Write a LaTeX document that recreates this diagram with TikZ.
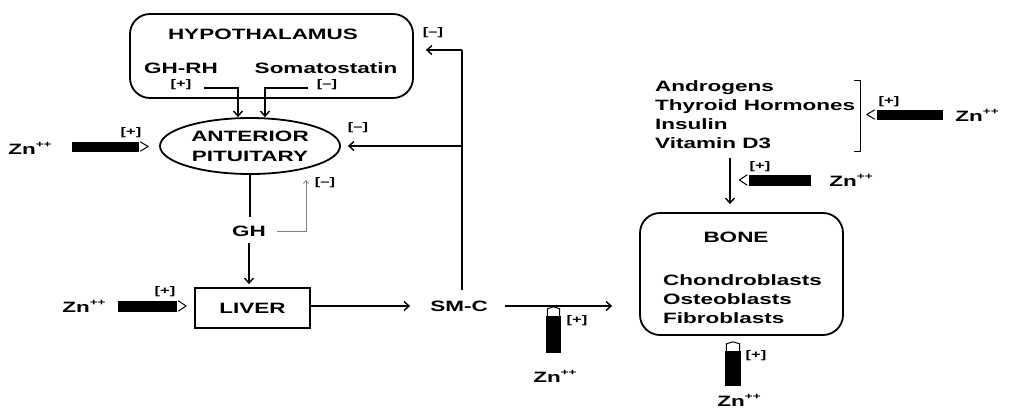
\documentclass[tikz,border=0pt]{standalone}
\usepackage{fontspec}
\setmainfont{Liberation Sans}[FakeStretch=1.5]
\usetikzlibrary{shapes.geometric,arrows.meta,calc}
\newcommand{\Zn}{Zn\raisebox{7pt}{\fontsize{9}{9}\selectfont++}}
\begin{document}
\begin{tikzpicture}[x=1pt,y=-1pt,
 lbl/.style={font=\fontsize{15}{19}\selectfont\bfseries, inner sep=0pt},
 sgn/.style={font=\fontsize{11}{12}\selectfont\bfseries, inner sep=0pt},
 zn/.style={font=\fontsize{15}{19}\selectfont\bfseries, inner sep=0pt},
 box/.style={draw, line width=1.8pt},
 arr/.style={line width=1.4pt, -{Straight Barb[length=5pt,width=9pt]}},
 ln/.style={line width=1.4pt},
 zbar/.style={fill=black, draw=black, inner sep=0pt},
 tip/.style={line width=1pt, line join=round},
 ]
\useasboundingbox (0,0) rectangle (1018,408);

% Hypothalamus
\node[box, rounded corners=20pt, minimum width=283pt, minimum height=84pt] (hyp) at (271.5,56) {};
\node[lbl] (hyptxt) at (263,34) {HYPOTHALAMUS};
\node[lbl] (ghrh) at (181,68) {GH-RH};
\node[lbl] (soma) at (326,68) {Somatostatin};
\node[sgn] (s1) at (181,85) {[+]};
\node[sgn] (s2) at (327,85) {[\textendash]};

% Anterior pituitary
\node[box, ellipse, minimum width=180pt, minimum height=56pt, inner sep=0pt, align=center,
      font=\fontsize{15}{20}\selectfont\bfseries] (ant) at (250,146) {ANTERIOR\\PITUITARY};

\coordinate (g1) at (204,88);
\coordinate (g2) at (308,88);
\draw[arr] (g1) -| ([xshift=-12pt]ant.north);
\draw[arr] (g2) -| ([xshift=15pt]ant.north);

% Zn -> pituitary
\node[zn] (zn1) at (30,148) {\Zn};
\node[zbar, minimum width=66pt, minimum height=9pt] (b1) at (105,146.5) {};
\draw[tip] ([xshift=2pt]b1.north east) -- ([xshift=10pt]b1.east) -- ([xshift=2pt]b1.south east);
\node[sgn] (s3) at (131,133) {[+]};

% SM-C and feedback
\node[lbl] (smc) at (459,306) {SM-C};
\coordinate (fb) at (462,290);
\coordinate (ft) at (462,50);
\coordinate (fm) at (462,146);
\draw[ln] (fb) -- (ft);
\draw[arr, shorten >=12pt] (ft) -- (hyp.east |- ft);
\draw[arr, shorten >=7pt] (fm) -- (ant.east);
\node[sgn] (s4) at (433,33) {[\textendash]};
\node[sgn] (s5) at (358,128) {[\textendash]};

% GH
\node[lbl] (gh) at (249,231) {GH};
\node[box, minimum width=115pt, minimum height=40pt, lbl] (liver) at (252.5,308) {LIVER};
\draw[ln, shorten >=8pt] (ant.south) -- (ant.south |- gh.north);
\draw[arr, shorten <=6pt, shorten >=3pt] (gh.south) -- (gh.south |- liver.north);
\coordinate (gfb) at (306,180);
\draw[gray, line width=0.8pt, -{Straight Barb[length=3pt,width=5pt]}] ([xshift=11pt]gh.east) -| (gfb);
\node[sgn] (s6) at (325,183) {[\textendash]};

% Zn -> liver
\node[zn] (zn2) at (84,306) {\Zn};
\node[zbar, minimum width=58pt, minimum height=10pt] (b2) at (147,306) {};
\draw[tip] ([xshift=2pt]b2.north east) -- ([xshift=10pt]b2.east) -- ([xshift=2pt]b2.south east);
\node[sgn] (s7) at (165,292) {[+]};

% liver -> SM-C -> bone
\node[box, rounded corners=20pt, minimum width=203pt, minimum height=122pt] (bone) at (741.5,274) {};
\node[lbl] (bonetxt) at (736,237) {BONE};
\node[lbl, anchor=north west, align=left, font=\fontsize{15}{19}\selectfont\bfseries] (cells) at (663,274) {Chondroblasts\\Osteoblasts\\Fibroblasts};
\draw[arr, shorten >=20pt] (liver.east |- smc.west) -- (smc.west);
\draw[arr, shorten <=17pt, shorten >=27pt] (smc.east) -- (smc.east -| bone.west);

% Zn up under SM-C arrow
\node[zbar, minimum width=14pt, minimum height=36pt] (b3) at (553.5,334) {};
\draw[tip] ([xshift=1pt]b3.north west) -- ([yshift=7pt,xshift=1pt]b3.north west) -- ([yshift=9pt]b3.north) -- ([yshift=7pt,xshift=-1pt]b3.north east) -- ([xshift=-1pt]b3.north east);
\node[sgn] (s8) at (577,321) {[+]};
\node[zn] (zn3) at (555,376) {\Zn};

% Zn up under bone
\node[zbar, minimum width=15pt, minimum height=34pt] (b4) at (733,368) {};
\draw[tip] ([xshift=1pt]b4.north west) -- ([yshift=7pt,xshift=1pt]b4.north west) -- ([yshift=9pt]b4.north) -- ([yshift=7pt,xshift=-1pt]b4.north east) -- ([xshift=-1pt]b4.north east);
\node[sgn] (s9) at (756,356) {[+]};
\node[zn] (zn4) at (739,400) {\Zn};

% Hormones
\node[lbl, anchor=north west, align=left, font=\fontsize{15}{19}\selectfont\bfseries] (horm) at (655,80) {Androgens\\Thyroid Hormones\\Insulin\\Vitamin D3};
\coordinate (bt) at (860,80);
\coordinate (bb) at (860,151);
\draw[line width=1pt] ([xshift=-6pt]bt) -- (bt) -- (bb) -- ([xshift=-6pt]bb);

% Zn -> hormones
\node[zbar, minimum width=65pt, minimum height=9pt] (b5) at (909.5,114.5) {};
\draw[tip] ([xshift=-2pt]b5.north west) -- ([xshift=-10pt]b5.west) -- ([xshift=-2pt]b5.south west);
\node[sgn] (s10) at (889,102) {[+]};
\node[zn] (zn5) at (977,115) {\Zn};

% hormones -> bone
\coordinate (hb) at (730,158);
\draw[arr, shorten >=8pt] (hb) -- (hb |- bone.north);
\node[zbar, minimum width=61pt, minimum height=10pt] (b6) at (780,180) {};
\draw[tip] ([xshift=-2pt]b6.north west) -- ([xshift=-10pt]b6.west) -- ([xshift=-2pt]b6.south west);
\node[sgn] (s11) at (760,167) {[+]};
\node[zn] (zn6) at (851,180) {\Zn};
\end{tikzpicture}
\end{document}
